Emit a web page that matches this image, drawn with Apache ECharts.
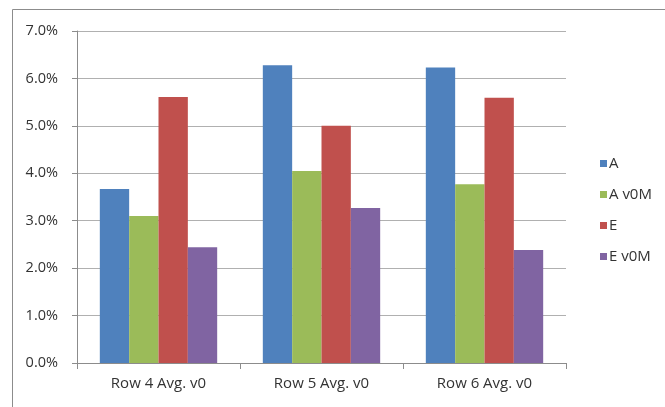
<!DOCTYPE html>
<html>
<head>
<meta charset="utf-8">
<script src="https://cdn.jsdelivr.net/npm/echarts@6/dist/echarts.min.js"></script>
<style>
  html, body { margin: 0; padding: 0; background: #fff; }
  #chart { width: 665px; height: 407px; }
</style>
</head>
<body>
<div id="chart"></div>
<script>
// Average rates per row group, in percent
const categories = ['Row 4 Avg. v0', 'Row 5 Avg. v0', 'Row 6 Avg. v0'];
const seriesNames = ['A', 'A v0M', 'E', 'E v0M'];
const valuesA    = [3.67, 6.28, 6.23];
const valuesAv0M = [3.10, 4.05, 3.77];
const valuesE    = [5.61, 5.00, 5.59];
const valuesEv0M = [2.44, 3.27, 2.38];
const yTicks = { min: 0, max: 7, interval: 1 };

const colors = ['#4F81BD', '#9BBB59', '#C0504D', '#8064A2'];
const seriesData = [valuesA, valuesAv0M, valuesE, valuesEv0M];
const font = '"Open Sans", Lato, sans-serif';

const chart = echarts.init(document.getElementById('chart'), null, { renderer: 'canvas' });
chart.setOption({
  animation: false,
  backgroundColor: '#fff',
  color: colors,
  textStyle: { fontFamily: font },
  graphic: [{
    type: 'rect',
    shape: { x: 12.5, y: 9.5, width: 700, height: 450 },
    style: { fill: 'none', stroke: '#8c8c8c', lineWidth: 1 },
    silent: true
  }],
  grid: { left: 77, right: 99, top: 31, bottom: 44, containLabel: false },
  legend: {
    orient: 'vertical',
    left: 595,
    top: 151,
    icon: 'rect',
    itemWidth: 7,
    itemHeight: 7,
    itemGap: 16,
    textStyle: { fontSize: 15, color: '#333', fontFamily: font, padding: [0, 0, 0, -3] },
    data: seriesNames
  },
  xAxis: {
    type: 'category',
    data: categories,
    axisLine: { lineStyle: { color: '#8c8c8c' } },
    axisTick: { show: true, alignWithLabel: false, length: 6, lineStyle: { color: '#8c8c8c' } },
    axisLabel: { fontSize: 15, color: '#333', margin: 13 }
  },
  yAxis: {
    type: 'value',
    min: yTicks.min,
    max: yTicks.max,
    interval: yTicks.interval,
    axisLine: { show: true, lineStyle: { color: '#8c8c8c' } },
    axisTick: { show: true, length: 5, lineStyle: { color: '#8c8c8c' } },
    splitLine: { lineStyle: { color: '#b0b0b0' } },
    axisLabel: {
      fontSize: 14.5, color: '#333', margin: 19,
      formatter: v => v.toFixed(1) + '%'
    }
  },
  series: seriesNames.map((name, i) => ({
    name,
    type: 'bar',
    data: seriesData[i],
    barGap: '0%',
    barCategoryGap: '28%',
    itemStyle: { color: colors[i] }
  }))
});
</script>
</body>
</html>
